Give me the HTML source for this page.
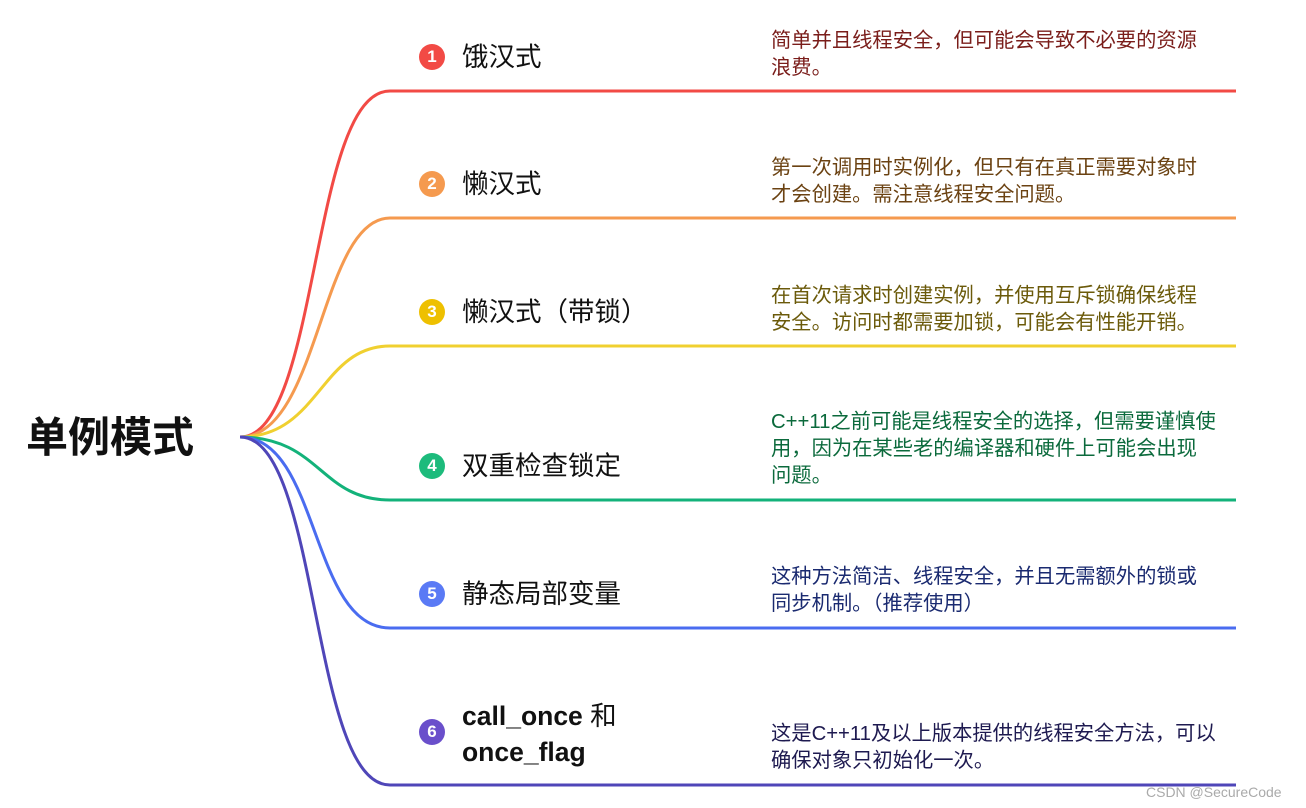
<!DOCTYPE html>
<html><head><meta charset="utf-8"><style>
body{margin:0;width:1306px;height:808px;background:#fff;position:relative;overflow:hidden;font-family:"Liberation Sans","Noto Sans CJK SC",sans-serif}
.t{position:absolute;white-space:nowrap}
.lab{font-size:26.5px;color:#111;line-height:34px}
.d{font-size:20.3px;line-height:27px}
.c{position:absolute;width:26px;height:26px;border-radius:50%;color:#fff;font-weight:bold;font-size:17px;text-align:center;line-height:26px}
</style></head><body>
<svg width="1306" height="808" style="position:absolute;left:0;top:0" fill="none" stroke-width="3">
<path d="M240 437 C320 437 310 91 390 91 L1236 91" stroke="#f24a45"/>
<path d="M240 437 C320 437 320 218 390 218 L1236 218" stroke="#f59a4f"/>
<path d="M240 437 C320 437 320 346 390 346 L1236 346" stroke="#f0d030"/>
<path d="M240 437 C320 437 320 500 390 500 L1236 500" stroke="#13b27a"/>
<path d="M240 437 C320 437 310 628 390 628 L1236 628" stroke="#4a6cf0"/>
<path d="M240 437 C320 437 310 785 390 785 L1236 785" stroke="#4f46b8"/>
</svg>
<div class="t" style="left:26px;top:413px;font-size:42px;font-weight:bold;color:#111;line-height:50px">单例模式</div>

<div class="c" style="left:419px;top:44px;background:#f24a45">1</div>
<div class="t lab" style="left:462px;top:40px">饿汉式</div>
<div class="t d" style="left:771px;top:28px;color:#7a1d1a">简单并且线程安全，但可能会导致不必要的资源<br>浪费。</div>

<div class="c" style="left:419px;top:171px;background:#f59a4f">2</div>
<div class="t lab" style="left:462px;top:167px">懒汉式</div>
<div class="t d" style="left:771px;top:155px;color:#6b4212">第一次调用时实例化，但只有在真正需要对象时<br>才会创建。需注意线程安全问题。</div>

<div class="c" style="left:419px;top:299px;background:#eec000">3</div>
<div class="t lab" style="left:462px;top:295px">懒汉式（带锁）</div>
<div class="t d" style="left:771px;top:283px;color:#6b5a0a">在首次请求时创建实例，并使用互斥锁确保线程<br>安全。访问时都需要加锁，可能会有性能开销。</div>

<div class="c" style="left:419px;top:453px;background:#1dbb7c">4</div>
<div class="t lab" style="left:462px;top:449px">双重检查锁定</div>
<div class="t d" style="left:771px;top:409px;color:#0b6a3c">C++11之前可能是线程安全的选择，但需要谨慎使<br>用，因为在某些老的编译器和硬件上可能会出现<br>问题。</div>

<div class="c" style="left:419px;top:581px;background:#5a7af5">5</div>
<div class="t lab" style="left:462px;top:577px">静态局部变量</div>
<div class="t d" style="left:771px;top:564px;color:#1a2a70">这种方法简洁、线程安全，并且无需额外的锁或<br>同步机制。（推荐使用）</div>

<div class="c" style="left:419px;top:719px;background:#6a4fcb">6</div>
<div class="t lab" style="left:462px;top:698px;font-weight:bold;line-height:36px">call_once <span style="font-weight:normal">和</span><br>once_flag</div>
<div class="t d" style="left:771px;top:721px;color:#1e1a50">这是C++11及以上版本提供的线程安全方法，可以<br>确保对象只初始化一次。</div>

<div class="t" style="left:1146px;top:784px;font-size:14px;color:#aaa">CSDN @SecureCode</div>
</body></html>
